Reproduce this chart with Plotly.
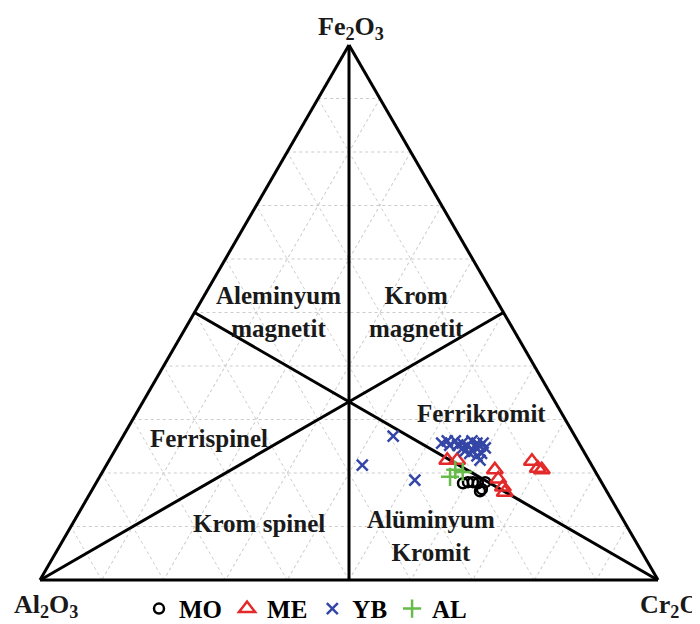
import plotly.graph_objects as go

# Ternary data (percent): Fe2O3 (a, top), Al2O3 (b, left), Cr2O3 (c, right)
mo_fe = [18.1, 18.3, 18.3, 18.1, 17.0, 18.3, 16.6]
mo_al = [22.5, 21.6, 20.8, 20.1, 20.0, 18.8, 20.5]
mo_cr = [59.4, 60.1, 60.9, 61.8, 63.0, 62.9, 62.9]

me_fe = [22.4, 22.4, 20.6, 18.9, 17.4, 16.4, 22.2, 20.9, 20.6]
me_al = [22.9, 21.3, 16.1, 16.4, 16.4, 16.6, 9.3, 9.0, 8.5]
me_cr = [54.7, 56.3, 63.3, 64.7, 66.2, 67.0, 68.5, 70.1, 70.9]

yb_fe = [26.9, 21.5, 18.7, 25.6, 26.0, 25.2, 26.0, 25.2, 25.6, 24.7, 25.2, 26.0,
         25.0, 25.6, 25.0, 23.7, 25.6, 24.7, 23.2, 22.4, 23.7, 24.1, 24.1]
yb_al = [29.4, 37.1, 30.0, 22.2, 21.1, 21.1, 19.8, 19.8, 18.9, 19.2, 18.3, 17.1,
         17.1, 16.5, 16.3, 16.7, 15.5, 15.6, 17.7, 17.6, 18.6, 19.2, 17.9]
yb_cr = [43.7, 41.4, 51.3, 52.2, 52.9, 53.7, 54.2, 55.0, 55.5, 56.1, 56.5, 56.9,
         57.9, 57.9, 58.7, 59.6, 58.9, 59.7, 59.1, 60.0, 57.7, 56.7, 58.0]

al_fe = [19.3, 20.6, 20.2]
al_al = [24.0, 22.5, 21.5]
al_cr = [56.7, 56.9, 58.3]

# Field boundary lines (Stevens diagram), segments separated by None
bnd_fe = [100, 0, None, 33.33, 50, None, 33.33, 50, None, 0, 33.33, None, 0, 33.33]
bnd_al = [0, 50, None, 33.33, 50, None, 33.33, 0, None, 100, 33.33, None, 0, 33.33]
bnd_cr = [0, 50, None, 33.34, 0, None, 33.34, 50, None, 0, 33.34, None, 100, 33.34]

SERIF = "Liberation Serif"

fig = go.Figure()

fig.add_trace(go.Scatterternary(
    a=bnd_fe, b=bnd_al, c=bnd_cr, mode="lines",
    line=dict(color="black", width=3), showlegend=False, hoverinfo="skip"))

fig.add_trace(go.Scatterternary(
    a=mo_fe, b=mo_al, c=mo_cr, mode="markers", name="MO",
    marker=dict(symbol="circle-open", size=10, color="black", line=dict(width=2.5))))
fig.add_trace(go.Scatterternary(
    a=me_fe, b=me_al, c=me_cr, mode="markers", name="ME",
    marker=dict(symbol="triangle-up-open", size=14, color="#e32a2a", line=dict(width=2.5))))
fig.add_trace(go.Scatterternary(
    a=yb_fe, b=yb_al, c=yb_cr, mode="markers", name="YB",
    marker=dict(symbol="x-thin-open", size=11, color="#3446a6", line=dict(width=2.5, color="#3446a6"))))
fig.add_trace(go.Scatterternary(
    a=al_fe, b=al_al, c=al_cr, mode="markers", name="AL",
    marker=dict(symbol="cross-thin-open", size=13, color="#66bb4a", line=dict(width=2.5, color="#66bb4a"))))

axis_common = dict(
    showticklabels=False, ticks="", dtick=10,
    showgrid=True, gridcolor="#cccccc", gridwidth=1, griddash="dot",
    linecolor="black", linewidth=3, title=dict(text=""),
)

fig.update_layout(
    width=700, height=624,
    paper_bgcolor="white",
    margin=dict(l=0, r=0, t=0, b=0),
    ternary=dict(
        sum=100,
        bgcolor="white",
        domain=dict(x=[32 / 700, 650 / 700], y=[49 / 624, 588 / 624]),
        aaxis=axis_common, baxis=axis_common, caxis=axis_common,
    ),
    showlegend=True,
    legend=dict(
        orientation="h", x=0.425, xanchor="center", y=0.034, yanchor="middle",
        font=dict(family=SERIF, size=25, color="black", weight="bold"),
        itemwidth=30, bgcolor="rgba(0,0,0,0)", tracegroupgap=0,
    ),
    font=dict(family=SERIF, color="#1a1a1a"),
)

def label(text, x, y, size=26, xanchor="center"):
    fig.add_annotation(
        text=text, x=x / 700, y=1 - y / 624, xref="paper", yref="paper",
        xanchor=xanchor, yanchor="middle", showarrow=False,
        font=dict(family=SERIF, size=size, color="#1a1a1a", weight="bold"))

label("Fe<sub>2</sub>O<sub>3</sub>", 343, 20)
label("Al<sub>2</sub>O<sub>3</sub>", 38, 600)
label("Cr<sub>2</sub>O<sub>3</sub>", 630, 600, xanchor="left")

label("Aleminyum<br>magnetit", 270, 305, size=25)
label("Krom<br>magnetit", 408, 305, size=25)
label("Ferrikromit", 473, 407, size=25)
label("Ferrispinel", 201, 432, size=25)
label("Krom spinel", 251, 517, size=25)
label("Alüminyum<br>Kromit", 423, 530, size=25)

fig.write_html("out.html")
